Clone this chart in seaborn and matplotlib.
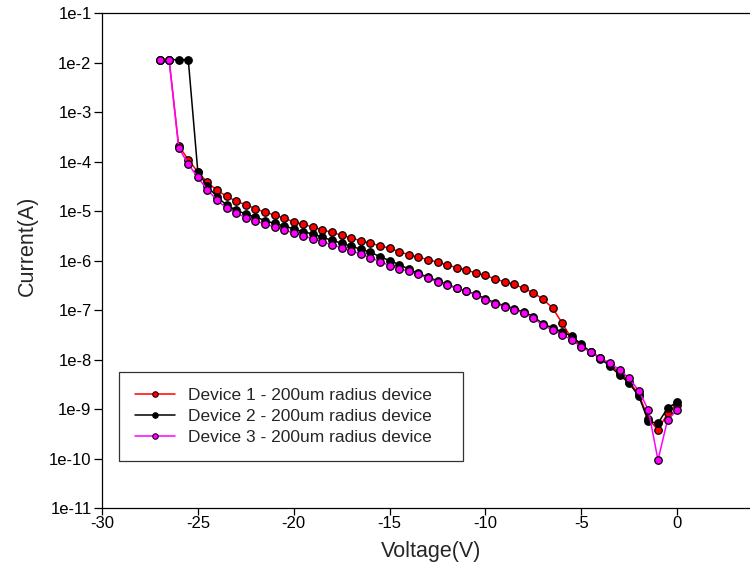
import matplotlib
matplotlib.use("Agg")
import matplotlib.pyplot as plt
from matplotlib.lines import Line2D
import seaborn as sns
import pandas as pd
import numpy as np

voltage = [-27, -26.5, -26, -25.5, -25, -24.5, -24, -23.5, -23, -22.5, -22, -21.5, -21, -20.5,
           -20, -19.5, -19, -18.5, -18, -17.5, -17, -16.5, -16, -15.5, -15, -14.5, -14, -13.5,
           -13, -12.5, -12, -11.5, -11, -10.5, -10, -9.5, -9, -8.5, -8, -7.5, -7, -6.5, -6, -5.5,
           -5, -4.5, -4, -3.5, -3, -2.5, -2, -1.5, -1, -0.5, 0]

device1 = [1.15e-2, 1.15e-2, 2.09e-4, 1.10e-4, 6.17e-5, 3.80e-5, 2.63e-5, 2.00e-5, 1.58e-5, 1.35e-5,
           1.12e-5, 9.55e-6, 8.32e-6, 7.24e-6, 6.03e-6, 5.37e-6, 4.79e-6, 4.17e-6, 3.72e-6, 3.24e-6,
           2.88e-6, 2.51e-6, 2.24e-6, 2.00e-6, 1.78e-6, 1.51e-6, 1.32e-6, 1.17e-6, 1.05e-6, 9.33e-7,
           8.13e-7, 7.24e-7, 6.46e-7, 5.62e-7, 5.01e-7, 4.27e-7, 3.72e-7, 3.31e-7, 2.75e-7, 2.24e-7,
           1.66e-7, 1.10e-7, 5.50e-8, 2.63e-8, 1.91e-8, 1.41e-8, 1.10e-8, 7.94e-9, 5.37e-9, 3.55e-9,
           2.00e-9, 6.30e-10, 3.80e-10, 8.13e-10, 1.20e-9]

device2 = [1.15e-2, 1.15e-2, 1.15e-2, 1.15e-2, 6.17e-5, 3.16e-5, 1.95e-5, 1.32e-5, 1.05e-5, 8.71e-6,
           7.59e-6, 6.46e-6, 5.62e-6, 5.01e-6, 4.37e-6, 3.80e-6, 3.47e-6, 2.95e-6, 2.57e-6, 2.24e-6,
           1.95e-6, 1.70e-6, 1.48e-6, 1.20e-6, 1.00e-6, 8.32e-7, 6.76e-7, 5.50e-7, 4.68e-7, 3.89e-7,
           3.31e-7, 2.82e-7, 2.40e-7, 2.09e-7, 1.70e-7, 1.41e-7, 1.23e-7, 1.07e-7, 9.12e-8, 7.41e-8,
           5.25e-8, 4.37e-8, 3.63e-8, 2.95e-8, 2.04e-8, 1.41e-8, 1.05e-8, 7.24e-9, 4.90e-9, 3.31e-9,
           1.82e-9, 5.62e-10, 5.13e-10, 1.05e-9, 1.38e-9]

device3 = [1.15e-2, 1.15e-2, 1.91e-4, 8.91e-5, 4.79e-5, 2.69e-5, 1.66e-5, 1.15e-5, 9.12e-6, 7.41e-6,
           6.31e-6, 5.50e-6, 4.79e-6, 4.17e-6, 3.63e-6, 3.16e-6, 2.75e-6, 2.40e-6, 2.09e-6, 1.82e-6,
           1.58e-6, 1.35e-6, 1.15e-6, 9.55e-7, 7.94e-7, 6.92e-7, 6.03e-7, 5.25e-7, 4.37e-7, 3.72e-7,
           3.16e-7, 2.75e-7, 2.40e-7, 2.00e-7, 1.58e-7, 1.35e-7, 1.17e-7, 1.02e-7, 8.71e-8, 6.92e-8,
           4.90e-8, 3.98e-8, 3.16e-8, 2.51e-8, 1.78e-8, 1.41e-8, 1.07e-8, 8.51e-9, 6.17e-9, 4.17e-9,
           2.34e-9, 9.55e-10, 9.33e-11, 6.03e-10, 9.55e-10]

labels = ["Device 1 - 200um radius device",
          "Device 2 - 200um radius device",
          "Device 3 - 200um radius device"]
colors = ["#ff0000", "#000000", "#ff00ff"]

x_ticks = [-30, -25, -20, -15, -10, -5, 0]
y_ticks = [1e-11, 1e-10, 1e-9, 1e-8, 1e-7, 1e-6, 1e-5, 1e-4, 1e-3, 1e-2, 1e-1]
y_tick_labels = ["1e-11", "1e-10", "1e-9", "1e-8", "1e-7", "1e-6", "1e-5", "1e-4",
                 "1e-3", "1e-2", "1e-1"]

df = pd.concat([
    pd.DataFrame({"Voltage": voltage, "Current": vals, "Device": lab})
    for vals, lab in zip([device1, device2, device3], labels)
], ignore_index=True)

sns.set_theme(style="white")
plt.rcParams["font.family"] = ["Liberation Sans", "DejaVu Sans"]

fig = plt.figure(figsize=(7.5, 5.74), dpi=100)
ax = fig.add_axes([0.136, 0.115, 0.864, 0.862])

sns.lineplot(data=df, x="Voltage", y="Current", hue="Device", palette=colors,
             hue_order=labels, estimator=None, sort=False, marker="o",
             markersize=5.4, markeredgecolor="black", markeredgewidth=0.9,
             linewidth=1.1, ax=ax, legend=False)

ax.set_yscale("log")
ax.set_ylim(1e-11, 1e-1)
ax.set_xlim(-30, 3.8)
ax.set_xticks(x_ticks)
ax.set_xticklabels([str(t) for t in x_ticks])
ax.set_yticks(y_ticks)
ax.set_yticklabels(y_tick_labels)
ax.yaxis.set_minor_locator(matplotlib.ticker.NullLocator())
ax.tick_params(axis="y", which="major", direction="out", length=6, width=0.9,
               labelsize=12, colors="black", left=True, pad=1.5)
ax.tick_params(axis="x", which="major", direction="out", length=5, width=0.9,
               labelsize=12, colors="black", bottom=True, pad=0.5)
for side in ["left", "bottom", "top"]:
    ax.spines[side].set_visible(True)
    ax.spines[side].set_color("black")
    ax.spines[side].set_linewidth(0.9)
ax.spines["right"].set_visible(False)

ax.set_xlabel("Voltage(V)", fontsize=15.5)
ax.set_ylabel("Current(A)", fontsize=15.5)
ax.xaxis.set_label_coords(0.5085, -0.066)
ax.yaxis.set_label_coords(-0.099, 0.53)

handles = [Line2D([0], [0], color=c, lw=1.1, marker="o", markersize=4,
                  markerfacecolor=c, markeredgecolor="black", markeredgewidth=0.7)
           for c in colors]
leg = ax.legend(handles, labels, loc="lower left",
                bbox_to_anchor=(0.0262, 0.095, 0.531, 0.186), mode="expand",
                fontsize=12.5, frameon=True, fancybox=False, edgecolor="black",
                handlelength=2.35, handletextpad=0.75, labelspacing=0.35,
                borderpad=0.9, borderaxespad=0)
leg.get_frame().set_linewidth(0.9)

fig.savefig("out.png", dpi=100)
